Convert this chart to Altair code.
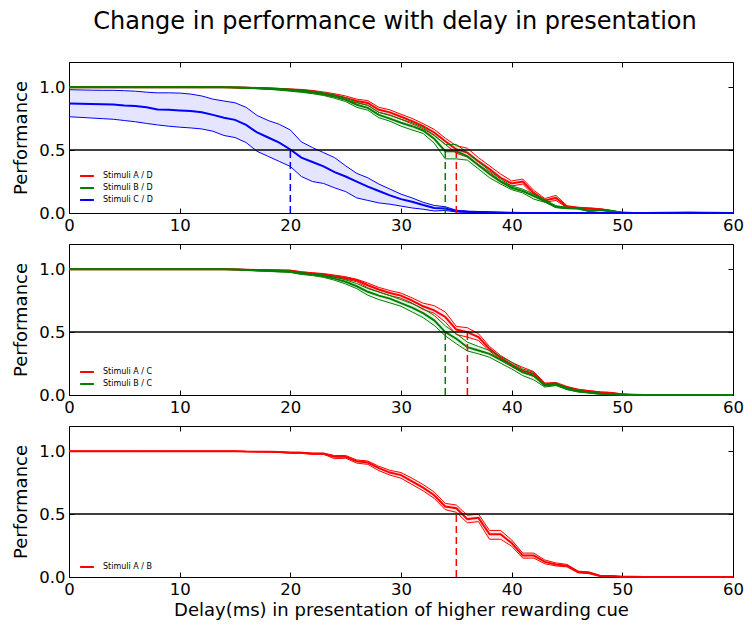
import altair as alt
import pandas as pd

DELAY = list(range(0, 53)) + [56, 60]
X_TICKS = [0, 10, 20, 30, 40, 50, 60]
Y_TICKS = [0.0, 0.5, 1.0]
THRESHOLD = 0.5

# ---------------- Panel 1 ----------------
P1_LABELS = ["Stimuli A / D", "Stimuli B / D", "Stimuli C / D"]
P1_COLORS = ["#ff0000", "#008000", "#0000ff"]
P1_CROSS = [35, 34, 20]

AD_MEAN = [1.0, 1.0, 1.0, 1.0, 1.0, 1.0, 1.0, 1.0, 1.0, 1.0,
           1.0, 1.0, 1.0, 1.0, 1.0, 0.998, 0.996, 0.994, 0.990, 0.985,
           0.980, 0.975, 0.965, 0.950, 0.935, 0.915, 0.890, 0.875, 0.820, 0.800,
           0.765, 0.730, 0.690, 0.640, 0.570, 0.505, 0.480, 0.410, 0.350, 0.280,
           0.235, 0.250, 0.160, 0.100, 0.120, 0.050, 0.040, 0.035, 0.030, 0.016,
           0.0, 0.0, 0.0, 0.003, 0.0]
AD_HI = [1.0, 1.0, 1.0, 1.0, 1.0, 1.0, 1.0, 1.0, 1.0, 1.0,
         1.0, 1.0, 1.0, 1.0, 1.0, 1.0, 0.998, 0.997, 0.994, 0.990,
         0.986, 0.982, 0.974, 0.962, 0.948, 0.930, 0.905, 0.893, 0.840, 0.820,
         0.785, 0.752, 0.710, 0.665, 0.595, 0.535, 0.515, 0.440, 0.375, 0.310,
         0.255, 0.270, 0.180, 0.115, 0.140, 0.058, 0.046, 0.040, 0.034, 0.020,
         0.002, 0.0, 0.0, 0.005, 0.0]
AD_LO = [1.0, 1.0, 1.0, 1.0, 1.0, 1.0, 1.0, 1.0, 1.0, 1.0,
         1.0, 1.0, 1.0, 1.0, 1.0, 0.996, 0.994, 0.991, 0.986, 0.980,
         0.974, 0.968, 0.956, 0.938, 0.922, 0.900, 0.875, 0.857, 0.800, 0.780,
         0.745, 0.708, 0.670, 0.615, 0.545, 0.475, 0.445, 0.385, 0.325, 0.255,
         0.215, 0.230, 0.140, 0.085, 0.100, 0.042, 0.034, 0.030, 0.026, 0.012,
         0.0, 0.0, 0.0, 0.001, 0.0]

BD_MEAN = [1.0, 1.0, 1.0, 1.0, 1.0, 1.0, 1.0, 1.0, 1.0, 1.0,
           1.0, 1.0, 1.0, 1.0, 1.0, 0.998, 0.995, 0.992, 0.988, 0.983,
           0.976, 0.968, 0.958, 0.945, 0.925, 0.900, 0.860, 0.836, 0.780, 0.750,
           0.717, 0.690, 0.656, 0.590, 0.490, 0.490, 0.450, 0.380, 0.310, 0.250,
           0.200, 0.175, 0.135, 0.095, 0.050, 0.040, 0.037, 0.016, 0.024, 0.016,
           0.003, 0.0, 0.0, 0.0, 0.0]
BD_HI = [1.0, 1.0, 1.0, 1.0, 1.0, 1.0, 1.0, 1.0, 1.0, 1.0,
         1.0, 1.0, 1.0, 1.0, 1.0, 1.0, 0.998, 0.996, 0.993, 0.990,
         0.984, 0.977, 0.968, 0.956, 0.938, 0.915, 0.880, 0.855, 0.800, 0.775,
         0.745, 0.718, 0.680, 0.620, 0.545, 0.545, 0.480, 0.410, 0.335, 0.270,
         0.215, 0.190, 0.150, 0.105, 0.058, 0.046, 0.042, 0.020, 0.028, 0.020,
         0.005, 0.001, 0.0, 0.0, 0.0]
BD_LO = [1.0, 1.0, 1.0, 1.0, 1.0, 1.0, 1.0, 1.0, 1.0, 1.0,
         1.0, 1.0, 1.0, 1.0, 1.0, 0.996, 0.992, 0.988, 0.983, 0.976,
         0.968, 0.959, 0.948, 0.934, 0.912, 0.885, 0.840, 0.817, 0.757, 0.730,
         0.690, 0.660, 0.632, 0.555, 0.430, 0.430, 0.420, 0.350, 0.280, 0.230,
         0.185, 0.160, 0.110, 0.085, 0.042, 0.034, 0.032, 0.012, 0.020, 0.012,
         0.001, 0.0, 0.0, 0.0, 0.0]

CD_MEAN = [0.870, 0.868, 0.866, 0.864, 0.862, 0.855, 0.850, 0.840, 0.822, 0.820,
           0.815, 0.810, 0.800, 0.780, 0.757, 0.740, 0.700, 0.640, 0.600, 0.560,
           0.505, 0.440, 0.405, 0.370, 0.325, 0.290, 0.250, 0.210, 0.175, 0.140,
           0.110, 0.090, 0.063, 0.040, 0.035, 0.015, 0.010, 0.008, 0.005, 0.003,
           0.001, 0.0, 0.0, 0.0, 0.0, 0.0, 0.0, 0.0, 0.0, 0.0,
           0.0, 0.0, 0.0, 0.0, 0.0]
CD_HI = [0.980, 0.978, 0.976, 0.975, 0.975, 0.972, 0.968, 0.960, 0.955, 0.955,
         0.953, 0.945, 0.930, 0.905, 0.890, 0.876, 0.840, 0.775, 0.735, 0.705,
         0.660, 0.565, 0.520, 0.480, 0.440, 0.375, 0.315, 0.280, 0.230, 0.190,
         0.150, 0.120, 0.085, 0.060, 0.050, 0.022, 0.015, 0.012, 0.008, 0.005,
         0.002, 0.0, 0.0, 0.0, 0.0, 0.0, 0.0, 0.0, 0.0, 0.0,
         0.0, 0.0, 0.0, 0.0, 0.0]
CD_LO = [0.765, 0.760, 0.755, 0.750, 0.745, 0.735, 0.725, 0.712, 0.700, 0.690,
         0.682, 0.676, 0.668, 0.650, 0.616, 0.600, 0.560, 0.490, 0.450, 0.410,
         0.370, 0.290, 0.250, 0.235, 0.200, 0.170, 0.120, 0.100, 0.080, 0.070,
         0.055, 0.040, 0.030, 0.016, 0.020, 0.008, 0.005, 0.004, 0.002, 0.001,
         0.0, 0.0, 0.0, 0.0, 0.0, 0.0, 0.0, 0.0, 0.0, 0.0,
         0.0, 0.0, 0.0, 0.0, 0.0]

# ---------------- Panel 2 ----------------
P2_LABELS = ["Stimuli A / C", "Stimuli B / C"]
P2_COLORS = ["#ff0000", "#008000"]
P2_CROSS = [36, 34]

AC_MEAN = [1.0, 1.0, 1.0, 1.0, 1.0, 1.0, 1.0, 1.0, 1.0, 1.0,
           1.0, 1.0, 1.0, 1.0, 1.0, 0.998, 0.996, 0.993, 0.992, 0.990,
           0.987, 0.973, 0.965, 0.957, 0.944, 0.930, 0.912, 0.872, 0.838, 0.810,
           0.790, 0.750, 0.705, 0.673, 0.620, 0.520, 0.500, 0.460, 0.367, 0.295,
           0.242, 0.194, 0.168, 0.085, 0.090, 0.060, 0.040, 0.030, 0.020, 0.015,
           0.005, 0.0, 0.0, 0.0, 0.0]
AC_HI = [1.0, 1.0, 1.0, 1.0, 1.0, 1.0, 1.0, 1.0, 1.0, 1.0,
         1.0, 1.0, 1.0, 1.0, 1.0, 1.0, 0.998, 0.996, 0.995, 0.994,
         0.992, 0.980, 0.972, 0.965, 0.953, 0.940, 0.920, 0.890, 0.855, 0.830,
         0.810, 0.772, 0.730, 0.710, 0.660, 0.545, 0.535, 0.487, 0.385, 0.314,
         0.260, 0.220, 0.186, 0.095, 0.100, 0.068, 0.046, 0.035, 0.025, 0.020,
         0.008, 0.001, 0.0, 0.0, 0.0]
AC_LO = [1.0, 1.0, 1.0, 1.0, 1.0, 1.0, 1.0, 1.0, 1.0, 1.0,
         1.0, 1.0, 1.0, 1.0, 1.0, 0.996, 0.994, 0.990, 0.989, 0.986,
         0.982, 0.966, 0.958, 0.949, 0.935, 0.920, 0.900, 0.852, 0.820, 0.790,
         0.770, 0.730, 0.680, 0.650, 0.580, 0.480, 0.460, 0.433, 0.350, 0.278,
         0.225, 0.180, 0.146, 0.075, 0.080, 0.052, 0.034, 0.025, 0.015, 0.010,
         0.002, 0.0, 0.0, 0.0, 0.0]

BC_MEAN = [1.0, 1.0, 1.0, 1.0, 1.0, 1.0, 1.0, 1.0, 1.0, 1.0,
           1.0, 1.0, 1.0, 1.0, 0.999, 0.997, 0.994, 0.990, 0.987, 0.984,
           0.980, 0.965, 0.957, 0.944, 0.925, 0.900, 0.864, 0.820, 0.790, 0.766,
           0.730, 0.694, 0.650, 0.593, 0.500, 0.447, 0.380, 0.354, 0.327, 0.280,
           0.234, 0.180, 0.154, 0.074, 0.085, 0.050, 0.030, 0.020, 0.010, 0.005,
           0.002, 0.001, 0.0, 0.0, 0.0]
BC_HI = [1.0, 1.0, 1.0, 1.0, 1.0, 1.0, 1.0, 1.0, 1.0, 1.0,
         1.0, 1.0, 1.0, 1.0, 1.0, 0.999, 0.997, 0.994, 0.992, 0.990,
         0.986, 0.972, 0.965, 0.953, 0.938, 0.915, 0.886, 0.846, 0.818, 0.790,
         0.758, 0.726, 0.686, 0.633, 0.550, 0.487, 0.420, 0.386, 0.354, 0.306,
         0.260, 0.207, 0.180, 0.085, 0.095, 0.058, 0.036, 0.025, 0.014, 0.008,
         0.004, 0.002, 0.0, 0.0, 0.0]
BC_LO = [1.0, 1.0, 1.0, 1.0, 1.0, 1.0, 1.0, 1.0, 1.0, 1.0,
         1.0, 1.0, 1.0, 1.0, 0.998, 0.995, 0.991, 0.986, 0.982, 0.978,
         0.974, 0.958, 0.949, 0.935, 0.912, 0.882, 0.845, 0.793, 0.758, 0.732,
         0.705, 0.660, 0.615, 0.553, 0.470, 0.407, 0.350, 0.327, 0.300, 0.253,
         0.207, 0.154, 0.120, 0.063, 0.075, 0.042, 0.024, 0.015, 0.006, 0.002,
         0.0, 0.0, 0.0, 0.0, 0.0]

# ---------------- Panel 3 ----------------
P3_LABELS = ["Stimuli A / B"]
P3_COLORS = ["#ff0000"]
P3_CROSS = [35]

AB_MEAN = [1.0, 1.0, 1.0, 1.0, 1.0, 1.0, 1.0, 1.0, 1.0, 1.0,
           1.0, 1.0, 1.0, 1.0, 1.0, 1.0, 0.997, 0.996, 0.995, 0.993,
           0.988, 0.987, 0.980, 0.980, 0.955, 0.955, 0.920, 0.910, 0.865, 0.830,
           0.810, 0.760, 0.710, 0.650, 0.560, 0.547, 0.460, 0.470, 0.340, 0.340,
           0.270, 0.170, 0.170, 0.120, 0.100, 0.090, 0.040, 0.033, 0.008, 0.007,
           0.002, 0.001, 0.0, 0.0, 0.0]
AB_HI = [1.0, 1.0, 1.0, 1.0, 1.0, 1.0, 1.0, 1.0, 1.0, 1.0,
         1.0, 1.0, 1.0, 1.0, 1.0, 1.0, 0.998, 0.997, 0.997, 0.996,
         0.992, 0.991, 0.985, 0.985, 0.965, 0.966, 0.930, 0.922, 0.880, 0.848,
         0.830, 0.785, 0.735, 0.675, 0.585, 0.572, 0.490, 0.500, 0.370, 0.370,
         0.295, 0.190, 0.190, 0.135, 0.112, 0.100, 0.047, 0.040, 0.012, 0.010,
         0.004, 0.002, 0.0, 0.0, 0.0]
AB_LO = [1.0, 1.0, 1.0, 1.0, 1.0, 1.0, 1.0, 1.0, 1.0, 1.0,
         1.0, 1.0, 1.0, 1.0, 1.0, 1.0, 0.996, 0.995, 0.993, 0.990,
         0.984, 0.983, 0.975, 0.975, 0.940, 0.944, 0.905, 0.895, 0.845, 0.810,
         0.785, 0.735, 0.685, 0.625, 0.535, 0.514, 0.430, 0.440, 0.300, 0.300,
         0.245, 0.150, 0.150, 0.105, 0.088, 0.080, 0.033, 0.026, 0.004, 0.004,
         0.0, 0.0, 0.0, 0.0, 0.0]

TITLE = "Change in performance with delay in presentation"
X_TITLE = "Delay(ms) in presentation of higher rewarding cue"
Y_TITLE = "Performance"

FONT = "DejaVu Sans"
W, H = 664, 151
XS = alt.Scale(domain=[0, 60], nice=False, zero=False)
YS = alt.Scale(domain=[0, 1.2], nice=False)


def panel(labels, colors, means, his, los, cross, legend_y, x_title):
    rows = []
    for lab, m, h, l in zip(labels, means, his, los):
        for d, mv, hv, lv in zip(DELAY, m, h, l):
            rows.append({"delay": d, "series": lab, "mean": mv, "hi": hv, "lo": lv})
    df = pd.DataFrame(rows)
    cross_df = pd.DataFrame({"series": labels, "delay": cross,
                             "top": [THRESHOLD] * len(labels),
                             "bottom": [0.0] * len(labels)})
    hline_df = pd.DataFrame({"level": [THRESHOLD]})

    legend = alt.Legend(title=None, orient="none", legendX=10, legendY=legend_y,
                        symbolType="stroke", symbolSize=190, symbolStrokeWidth=2,
                        labelFont=FONT, labelFontSize=8, labelColor="black",
                        rowPadding=0, padding=0, labelOffset=8)
    cscale = alt.Scale(domain=labels, range=colors)

    xn = alt.X("delay:Q", scale=XS, axis=None)
    base = alt.Chart(df)
    layers = []

    # main labelled axes (invisible points)
    x_axis_kw = dict(orient="bottom", values=X_TICKS, format="d", ticks=False, tickSize=0,
                     domain=False, grid=False, labelFont=FONT, labelFontSize=16.5,
                     labelPadding=4, labelColor="black", labelFlush=False)
    if x_title:
        x_axis_kw.update(title=x_title, titleFont=FONT, titleFontSize=18,
                         titleFontWeight="normal", titleColor="black", titlePadding=4)
    else:
        x_axis_kw.update(title=None)
    layers.append(base.mark_point(opacity=0, size=0).encode(
        x=alt.X("delay:Q", scale=XS, axis=alt.Axis(**x_axis_kw)),
        y=alt.Y("mean:Q", scale=YS, axis=alt.Axis(
            orient="left", values=Y_TICKS, format=".1f", ticks=False, tickSize=0,
            domain=False, grid=False, labelFont=FONT, labelFontSize=16.5,
            labelPadding=4, labelColor="black", title=Y_TITLE, titleFont=FONT,
            titleFontSize=18, titleFontWeight="normal", titleColor="black",
            titlePadding=8))))

    for lab, col in zip(labels, colors):
        sub = base.transform_filter(alt.datum.series == lab)
        layers.append(sub.mark_area(color=col, opacity=0.1).encode(
            x=xn, y=alt.Y("lo:Q", scale=YS, axis=None), y2="hi:Q"))
        layers.append(sub.mark_line(color=col, strokeWidth=1).encode(
            x=xn, y=alt.Y("lo:Q", scale=YS, axis=None)))
        layers.append(sub.mark_line(color=col, strokeWidth=1).encode(
            x=xn, y=alt.Y("hi:Q", scale=YS, axis=None)))
        layers.append(sub.mark_line(strokeWidth=2).encode(
            x=xn, y=alt.Y("mean:Q", scale=YS, axis=None),
            color=alt.Color("series:N", scale=cscale, legend=legend)))

    layers.append(alt.Chart(hline_df).mark_rule(color="black", strokeWidth=1.5).encode(
        y=alt.Y("level:Q", scale=YS, axis=None)))

    for lab, col in zip(labels, colors):
        layers.append(alt.Chart(cross_df).transform_filter(alt.datum.series == lab)
                      .mark_rule(color=col, strokeDash=[7, 4], strokeWidth=1.5).encode(
            x=xn, y=alt.Y("bottom:Q", scale=YS, axis=None), y2="top:Q"))

    # inward tick marks on all four sides
    tick_kw = dict(labels=False, domain=False, grid=False, title=None, ticks=True,
                   tickSize=5, tickColor="black", tickWidth=1, offset=-5)
    for orient in ["bottom", "top"]:
        layers.append(base.mark_point(opacity=0, size=0).encode(
            x=alt.X("delay:Q", scale=XS, axis=alt.Axis(orient=orient, values=X_TICKS, **tick_kw)),
            y=alt.Y("mean:Q", scale=YS, axis=None)))
    for orient in ["left", "right"]:
        layers.append(base.mark_point(opacity=0, size=0).encode(
            x=alt.X("delay:Q", scale=XS, axis=None),
            y=alt.Y("mean:Q", scale=YS, axis=alt.Axis(orient=orient, values=Y_TICKS, **tick_kw))))

    return alt.layer(*layers).resolve_axis(x="independent", y="independent").properties(
        width=W, height=H)


p1 = panel(P1_LABELS, P1_COLORS, [AD_MEAN, BD_MEAN, CD_MEAN], [AD_HI, BD_HI, CD_HI],
           [AD_LO, BD_LO, CD_LO], P1_CROSS, 106, None)
p2 = panel(P2_LABELS, P2_COLORS, [AC_MEAN, BC_MEAN], [AC_HI, BC_HI],
           [AC_LO, BC_LO], P2_CROSS, 120, None)
p3 = panel(P3_LABELS, P3_COLORS, [AB_MEAN], [AB_HI], [AB_LO], P3_CROSS, 133, X_TITLE)

chart = alt.vconcat(p1, p2, p3, spacing=9).resolve_scale(
    color="independent").resolve_legend(color="independent").properties(
    title=alt.TitleParams(TITLE, font=FONT, fontSize=24, fontWeight="normal",
                          color="black", anchor="middle", frame="group", offset=27, dx=-6),
    padding={"left": 4, "top": 2, "right": 0, "bottom": 0},
).configure_view(stroke="black", strokeWidth=1)

chart.save("out.html", embed_options={"renderer": "svg", "actions": False})
